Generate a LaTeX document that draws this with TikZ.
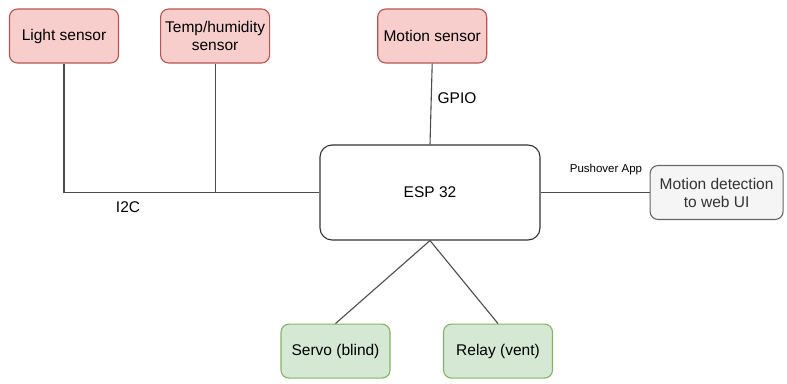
\documentclass[tikz,border=0pt]{standalone}
\usepackage{fontspec}
\setmainfont{Liberation Sans}
\usetikzlibrary{positioning}

\definecolor{redfill}{HTML}{F8CECC}
\definecolor{redline}{HTML}{B85450}
\definecolor{greenfill}{HTML}{D5E8D4}
\definecolor{greenline}{HTML}{82B366}
\definecolor{grayfill}{HTML}{F5F5F5}
\definecolor{grayline}{HTML}{666666}

\begin{document}
\begin{tikzpicture}[x=1pt, y=-1pt, line width=1.1pt, font=\fontsize{15.5}{18}\selectfont,
    box/.style = {draw, rounded corners=8pt, minimum width=109pt, minimum height=54pt, align=center, inner sep=2pt},
    sensor/.style = {box, fill=redfill, draw=redline},
    actor/.style = {box, fill=greenfill, draw=greenline},
    ui/.style = {box, fill=grayfill, draw=grayline, text=black!80},
    main/.style = {draw=black!80, rounded corners=12pt, minimum width=220pt, minimum height=95pt},
    wire/.style = {draw=black!70},
    tag/.style = {fill=white, inner sep=2pt}]
            \useasboundingbox (0,0) rectangle (787,383);
            \node[main] (esp) at (430,192.5) {ESP 32};
            \node[sensor] (light) at (64,36) {Light sensor};
            \node[sensor] (temp) [right=41pt of light] {Temp/humidity\\sensor};
            \node[sensor] (motion) [right=107pt of temp] {Motion sensor};
            \node[ui] (web) [right=109pt of esp, minimum width=133pt] {Motion detection\\to web UI};
            \node[actor] (servo) [below=83pt of esp, xshift=-94.5pt] {Servo (blind)};
            \node[actor] (relay) [below=83pt of esp, xshift=68pt] {Relay (vent)};

            \coordinate (bus) at (light.south |- esp.west);
            \coordinate (tap) at (temp.south |- esp.west);

            \draw[wire] (light.south) -- (bus) -- (esp.west);
            \draw[wire] (temp.south) -- (tap);
            \draw[wire] (motion.south) -- (esp.north);
            \draw[wire] (esp.east) -- (web.west);
            \draw[wire] (esp.south) -- (servo.north);
            \draw[wire] (esp.south) -- (relay.north);

            \node[tag] (i2c) at (128,207) {I2C};
            \node[tag] (gpio) at (457,98) {GPIO};
            \node[font=\fontsize{11.5}{14}\selectfont] (push) at (606,170) {Pushover App};
\end{tikzpicture}
\end{document}
